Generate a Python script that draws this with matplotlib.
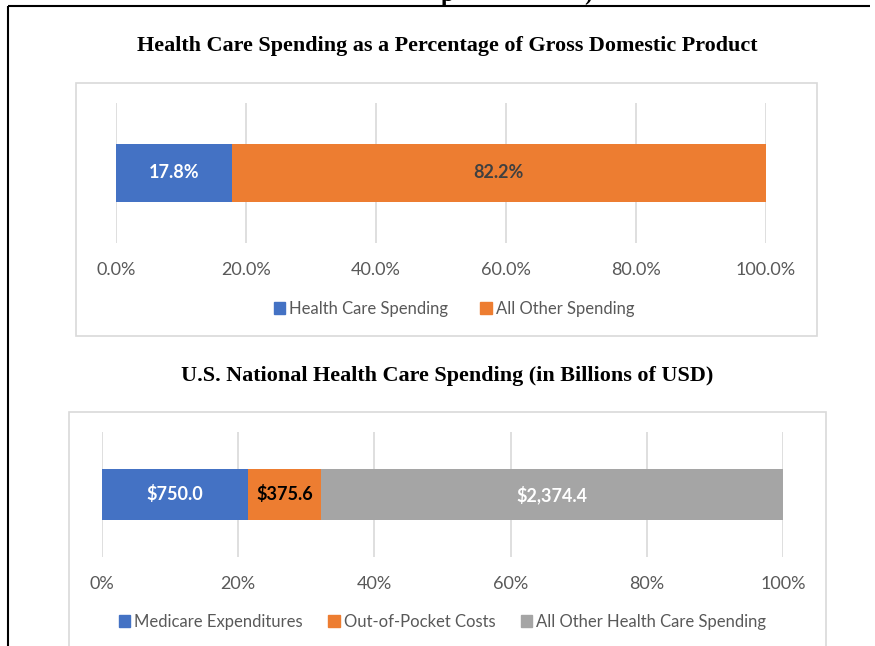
import matplotlib
matplotlib.use("Agg")
import matplotlib.pyplot as plt
from matplotlib.patches import Rectangle, Patch
from matplotlib.lines import Line2D
import numpy as np

# ---- data ----
gdp_categories = ["Health Care Spending", "All Other Spending"]
gdp_values = [17.8, 82.2]
gdp_labels = ["17.8%", "82.2%"]
gdp_ticks = [0, 20, 40, 60, 80, 100]
gdp_ticklabels = ["0.0%", "20.0%", "40.0%", "60.0%", "80.0%", "100.0%"]

nhe_categories = ["Medicare Expenditures", "Out-of-Pocket Costs", "All Other Health Care Spending"]
nhe_values = [750.0, 375.6, 2374.4]
nhe_ticks = [0, 20, 40, 60, 80, 100]
nhe_ticklabels = ["0%", "20%", "40%", "60%", "80%", "100%"]

title1 = "Health Care Spending as a Percentage of Gross Domestic Product"
title2 = "U.S. National Health Care Spending (in Billions of USD)"

# ---- style ----
W, H = 875, 646
BLUE, ORANGE, GRAY = "#4472C4", "#ED7D31", "#A5A5A5"
TXT = "#595959"
GRID = "#D9D9D9"
SANS = ["Lato", "DejaVu Sans"]
SERIF = ["Liberation Serif", "DejaVu Serif"]

fig = plt.figure(figsize=(W / 100, H / 100), dpi=100)
fig.patch.set_facecolor("white")


def fx(x):
    return x / W


def fy(y):
    return 1 - y / H


def axes_px(x0, x1, y0, y1):
    return fig.add_axes([fx(x0), fy(y1), (x1 - x0) / W, (y1 - y0) / H])


# outer frame (page border)
fig.add_artist(Line2D([fx(8), fx(8)], [fy(6), fy(H + 5)], color="black", lw=1.5,
                      transform=fig.transFigure, solid_capstyle="butt"))
fig.add_artist(Line2D([fx(8), fx(870)], [fy(6), fy(6)], color="black", lw=1.5,
                      transform=fig.transFigure, solid_capstyle="butt"))
# cut-off heading fragments above the border
fig.text(fx(447), fy(1), "p", fontsize=17, fontweight="bold", family=SERIF,
         ha="center", va="baseline", color="black")
fig.text(fx(588), fy(0), ")", fontsize=17, fontweight="bold", family=SERIF,
         ha="center", va="baseline", color="black")

# chart boxes
fig.add_artist(Rectangle((fx(76), fy(336)), (817 - 76) / W, (336 - 83) / H,
                         transform=fig.transFigure, fill=False, edgecolor=GRID, lw=1.2))
fig.add_artist(Rectangle((fx(69), fy(700)), (826 - 69) / W, (700 - 412) / H,
                         transform=fig.transFigure, fill=False, edgecolor=GRID, lw=1.2))

# titles
fig.text(fx(447), fy(46), title1, fontsize=15.9, fontweight="bold", family=SERIF,
         ha="center", va="center", color="black")
fig.text(fx(447), fy(376), title2, fontsize=15.9, fontweight="bold", family=SERIF,
         ha="center", va="center", color="black")


def style_axes(ax, ticks, ticklabels):
    ax.set_xlim(0, 100)
    ax.set_ylim(-0.5, 0.5)
    for s in ax.spines.values():
        s.set_visible(False)
    ax.set_yticks([])
    ax.set_xticks(ticks)
    ax.set_xticklabels(ticklabels, family=SANS, fontsize=13, color=TXT)
    ax.tick_params(axis="x", length=0, pad=14)
    ax.grid(axis="x", color=GRID, lw=1.2)
    ax.set_axisbelow(True)
    ax.patch.set_alpha(0)


# ---- chart 1 ----
ax1 = axes_px(116, 766, 103, 243)
style_axes(ax1, gdp_ticks, gdp_ticklabels)
left = 0
colors1 = [BLUE, ORANGE]
lblcol1 = ["white", "#404040"]
for v, c, lab, lc, name in zip(gdp_values, colors1, gdp_labels, lblcol1, gdp_categories):
    ax1.barh(0, v, left=left, height=0.41, color=c, label=name)
    ax1.text(left + v / 2, 0, lab, ha="center", va="center", color=lc,
             fontsize=13, fontweight="bold", family=SANS)
    left += v
leg1 = ax1.legend(handles=[Patch(color=c, label=n) for c, n in zip(colors1, gdp_categories)],
                  loc="center", bbox_to_anchor=(0.52, (243 - 309) / 140), ncol=2,
                  frameon=False, handlelength=0.7, handleheight=0.7, handletextpad=0.25,
                  columnspacing=1.9, prop={"family": SANS, "size": 12})
for t in leg1.get_texts():
    t.set_color(TXT)

# ---- chart 2 ----
ax2 = axes_px(102, 783, 432, 557)
style_axes(ax2, nhe_ticks, nhe_ticklabels)
total = sum(nhe_values)
colors2 = [BLUE, ORANGE, GRAY]
lblcol2 = ["white", "black", "white"]
left = 0
for v, c, lc, name in zip(nhe_values, colors2, lblcol2, nhe_categories):
    pct = v / total * 100
    ax2.barh(0, pct, left=left, height=0.41, color=c, label=name)
    ax2.text(left + pct / 2, 0, f"${v:,.1f}", ha="center", va="center", color=lc,
             fontsize=13, fontweight="bold", family=SANS)
    left += pct
leg2 = ax2.legend(handles=[Patch(color=c, label=n) for c, n in zip(colors2, nhe_categories)],
                  loc="center", bbox_to_anchor=(0.5, (557 - 622) / 125), ncol=3,
                  frameon=False, handlelength=0.7, handleheight=0.7, handletextpad=0.25,
                  columnspacing=1.5, prop={"family": SANS, "size": 12})
for t in leg2.get_texts():
    t.set_color(TXT)

fig.savefig("out.png", dpi=100, facecolor="white")
